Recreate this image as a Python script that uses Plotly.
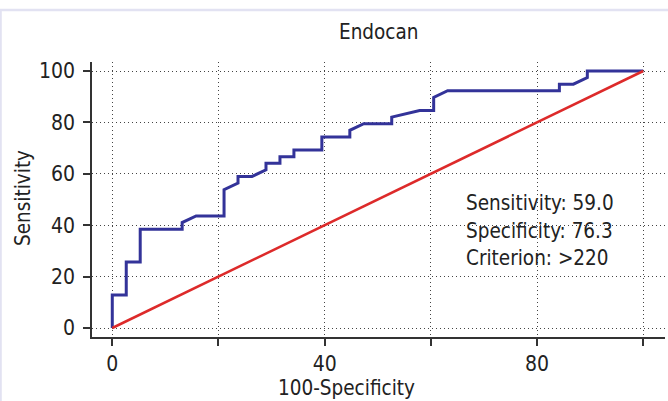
import plotly.graph_objects as go

# ROC curve for Endocan (100-Specificity vs Sensitivity)
fpr = [0, 0, 2.63, 2.63, 5.26, 5.26, 13.16, 13.16, 15.79, 21.05, 21.05, 23.68, 23.68,
       26.32, 28.95, 28.95, 31.58, 31.58, 34.21, 34.21, 39.47, 39.47, 44.74, 44.74,
       47.37, 52.63, 52.63, 57.89, 60.53, 60.53, 63.16, 84.21, 84.21, 86.84, 89.47,
       89.47, 100]
tpr = [0, 12.82, 12.82, 25.64, 25.64, 38.46, 38.46, 41.03, 43.59, 43.59, 53.85, 56.41,
       58.97, 58.97, 61.54, 64.10, 64.10, 66.67, 66.67, 69.23, 69.23, 74.36, 74.36,
       76.92, 79.49, 79.49, 82.05, 84.62, 84.62, 89.74, 92.31, 92.31, 94.87, 94.87,
       97.44, 100, 100]
ref_x = [0, 100]
ref_y = [0, 100]
tick_vals_x = [0, 20, 40, 60, 80, 100]
tick_text_x = ["0", "", "40", "", "80", ""]
tick_vals_y = [0, 20, 40, 60, 80, 100]
stats_lines = ["Sensitivity: 59.0", "Specificity: 76.3", "Criterion: >220"]

W, H = 668, 401
L, R, T, B = 92, 665, 62, 337
pw, ph = R - L, B - T

def px(x):
    return (x - L) / pw

def py(y):
    return (B - y) / ph

FONT = "DejaVu Sans Condensed, DejaVu Sans, sans-serif"
TXT = "#222222"

fig = go.Figure()
fig.add_trace(go.Scatter(x=fpr, y=tpr, mode="lines",
                         line=dict(color="#333399", width=3), hoverinfo="skip"))
fig.add_trace(go.Scatter(x=ref_x, y=ref_y, mode="lines",
                         line=dict(color="#dd2a2a", width=2.5), hoverinfo="skip"))

grid = dict(showgrid=True, gridcolor="#444444", gridwidth=1, griddash="1px,3px",
            zeroline=False, showline=True, linecolor="#333333", linewidth=1.5,
            ticks="outside", ticklen=7, tickwidth=1.5, tickcolor="#333333",
            tickfont=dict(family=FONT, size=21, color=TXT))

fig.update_layout(
    width=W, height=H,
    margin=dict(l=L, r=W - R, t=T, b=H - B, pad=0),
    paper_bgcolor="white", plot_bgcolor="white",
    showlegend=False,
    font=dict(family=FONT, size=20, color=TXT),
    xaxis=dict(range=[-3.82, 104.1], tickvals=tick_vals_x, ticktext=tick_text_x,
               ticklabelstandoff=0, **grid),
    yaxis=dict(range=[-3.5, 103.5], tickvals=tick_vals_y, ticklabelstandoff=4, **grid),
)

ann = [
    dict(text="Endocan", x=px(378), y=py(32), xanchor="center", yanchor="middle"),
    dict(text="100-Specificity", x=px(346), y=py(388), xanchor="center", yanchor="middle"),
    dict(text="Sensitivity", x=px(23), y=py(198), xanchor="center", yanchor="middle",
         textangle=-90),
]
for i, s in enumerate(stats_lines):
    ann.append(dict(text=s, x=px(464), y=py(203 + 27.5 * i), xanchor="left", yanchor="middle"))
for a in ann:
    a.update(xref="paper", yref="paper", showarrow=False,
             font=dict(family=FONT, size=20.5, color=TXT))
fig.update_layout(annotations=ann)

# light frame lines at top and left
fig.add_shape(type="line", xref="paper", yref="paper", x0=px(0), x1=px(668),
              y0=py(10), y1=py(10), line=dict(color="#e2e2f2", width=2.5))
fig.add_shape(type="line", xref="paper", yref="paper", x0=px(0.8), x1=px(0.8),
              y0=py(10), y1=py(401), line=dict(color="#e2e2f2", width=2))

fig.write_html("out.html", config={"displayModeBar": False},
               post_script="document.body.style.margin='0';document.body.style.overflow='hidden';")
